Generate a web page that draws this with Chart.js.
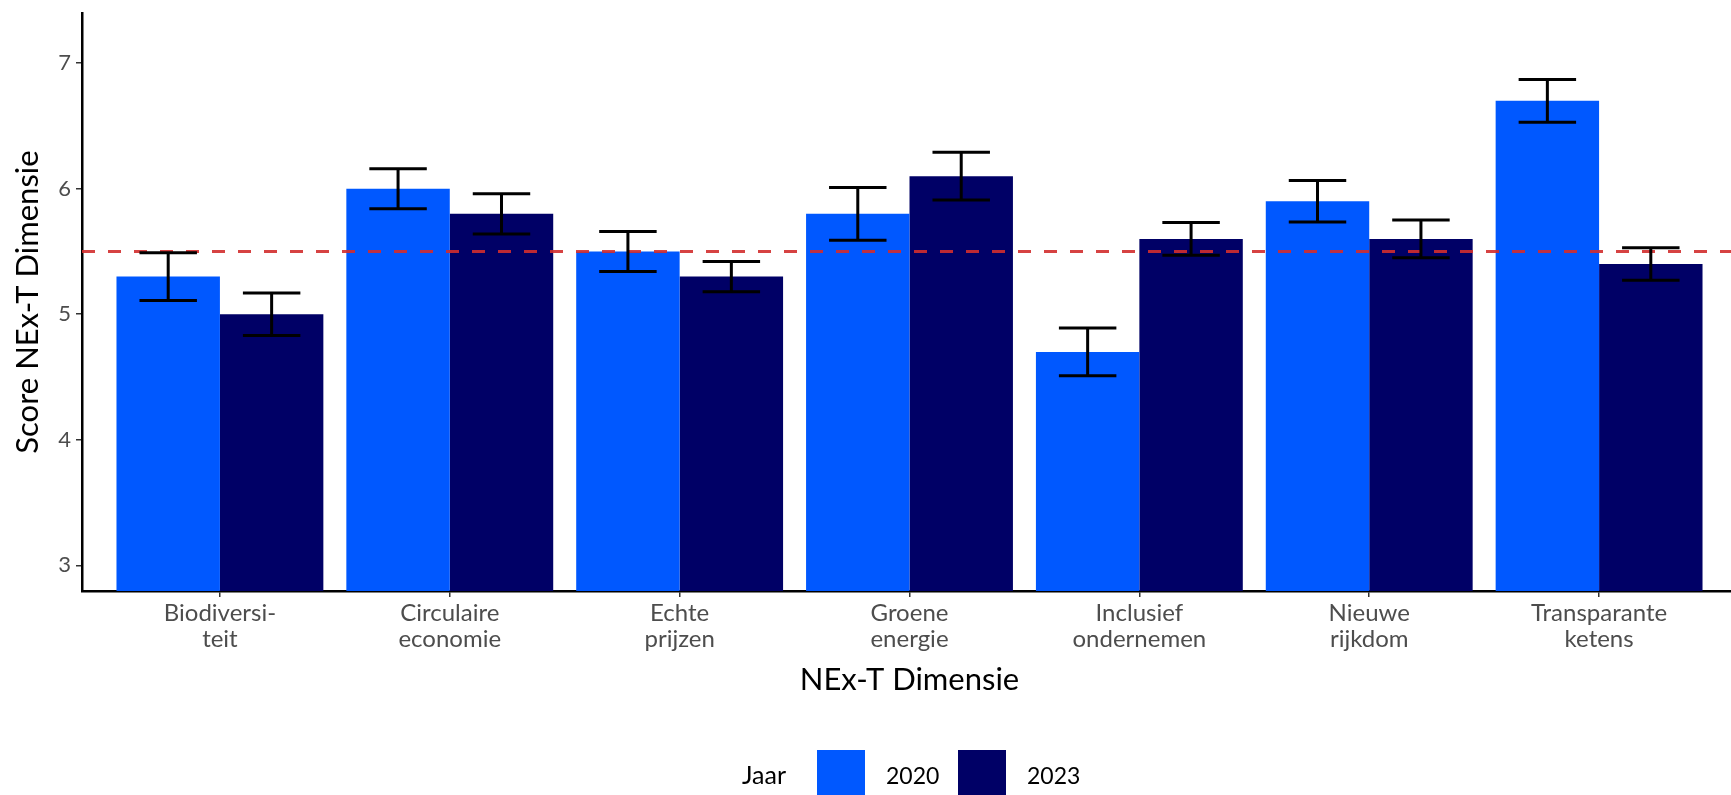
<!DOCTYPE html>
<html>
<head>
<meta charset="utf-8">
<style>
  html, body { margin: 0; padding: 0; background: #fff; overflow: hidden; }
</style>
</head>
<body>
<canvas id="nextChart" width="1737" height="795"></canvas>

<script src="https://cdn.jsdelivr.net/npm/chart.js"></script>
<script>
  // categories on the x axis (two-line labels)
  const dimensies = [
    ["Biodiversi-", "teit"],
    ["Circulaire", "economie"],
    ["Echte", "prijzen"],
    ["Groene", "energie"],
    ["Inclusief", "ondernemen"],
    ["Nieuwe", "rijkdom"],
    ["Transparante", "ketens"]
  ];
  const jaren = ["2020", "2023"];

  // mean scores per year
  const scores2020 = [5.3, 6.0, 5.5, 5.8, 4.7, 5.9, 6.7];
  const scores2023 = [5.0, 5.8, 5.3, 6.1, 5.6, 5.6, 5.4];

  // half width of the error bars
  const err2020 = [0.19, 0.16, 0.16, 0.21, 0.19, 0.165, 0.17];
  const err2023 = [0.17, 0.16, 0.12, 0.19, 0.13, 0.15, 0.13];

  const drempel = 5.5; // dashed reference line
  const yTicks = [3, 4, 5, 6, 7];

  const FONT = "Lato, 'Open Sans', sans-serif";

  // red dashed line + error bars on top of the bars
  const overlayPlugin = {
    id: "overlay",
    afterDatasetsDraw(chart) {
      const ctx = chart.ctx;
      const x = chart.scales.x;
      const y = chart.scales.y;
      const area = chart.chartArea;

      ctx.save();
      ctx.beginPath();
      ctx.rect(area.left, area.top, area.right - area.left, area.bottom - area.top);
      ctx.clip();

      // reference line
      const yRef = y.getPixelForValue(drempel);
      ctx.strokeStyle = "rgba(210, 45, 45, 0.9)";
      ctx.lineWidth = 2.8;
      ctx.setLineDash([13, 13]);
      ctx.beginPath();
      ctx.moveTo(area.left, yRef);
      ctx.lineTo(area.right, yRef);
      ctx.stroke();
      ctx.setLineDash([]);

      // error bars
      const unit = x.getPixelForValue(1) - x.getPixelForValue(0);
      const half = unit * 0.125;
      const errs = [err2020, err2023];
      ctx.strokeStyle = "#000";
      ctx.lineWidth = 3;
      chart.data.datasets.forEach((ds, i) => {
        const meta = chart.getDatasetMeta(i);
        meta.data.forEach((bar, j) => {
          const v = ds.data[j].y;
          const hi = y.getPixelForValue(v + errs[i][j]);
          const lo = y.getPixelForValue(v - errs[i][j]);
          ctx.beginPath();
          ctx.moveTo(bar.x, hi);
          ctx.lineTo(bar.x, lo);
          ctx.moveTo(bar.x - half, hi);
          ctx.lineTo(bar.x + half, hi);
          ctx.moveTo(bar.x - half, lo);
          ctx.lineTo(bar.x + half, lo);
          ctx.stroke();
        });
      });
      ctx.restore();
    }
  };

  // legend in one row: "Jaar" [box] 2020 [box] 2023
  const legendPlugin = {
    id: "jaarLegend",
    afterDraw(chart) {
      const ctx = chart.ctx;
      ctx.save();
      ctx.font = "25px " + FONT;
      ctx.fillStyle = "#000";
      ctx.textBaseline = "alphabetic";
      ctx.textAlign = "left";
      ctx.fillText("Jaar", 742, 784);
      const boxX = [817, 958];
      chart.data.datasets.forEach((ds, i) => {
        ctx.fillStyle = ds.backgroundColor;
        ctx.fillRect(boxX[i], 750, 48, 50);
        ctx.fillStyle = "#000";
        ctx.font = "23px " + FONT;
        ctx.fillText(ds.label, boxX[i] + 69, 784);
      });
      ctx.restore();
    }
  };

  const toPoints = (arr) => arr.map((v, i) => ({ x: i, y: v }));

  new Chart(document.getElementById("nextChart"), {
    type: "bar",
    data: {
      datasets: [
        {
          label: jaren[0],
          data: toPoints(scores2020),
          backgroundColor: "#0058ff",
          categoryPercentage: 0.9,
          barPercentage: 1.0
        },
        {
          label: jaren[1],
          data: toPoints(scores2023),
          backgroundColor: "#000066",
          categoryPercentage: 0.9,
          barPercentage: 1.0
        }
      ]
    },
    options: {
      responsive: false,
      animation: false,
      layout: { padding: { top: 13, left: 0, right: 0, bottom: 0 } },
      plugins: {
        legend: { display: false },
        tooltip: { enabled: false }
      },
      scales: {
        x: {
          type: "linear",
          min: -0.6,
          max: 6.6,
          offset: false,
          afterFit: (s) => { s.height = 204; s.paddingLeft = 0; s.paddingRight = 0; },
          border: { display: true, color: "#000", width: 2.5 },
          grid: {
            display: true,
            offset: false,
            drawOnChartArea: false,
            drawTicks: true,
            tickLength: 6,
            tickColor: "#333",
            lineWidth: 1.5
          },
          ticks: {
            stepSize: 1,
            includeBounds: false,
            autoSkip: false,
            maxRotation: 0,
            padding: 3,
            color: "#4d4d4d",
            font: { family: FONT, size: 24, lineHeight: 1.1 },
            callback: (v) => dimensies[v] || ""
          },
          title: {
            display: true,
            text: "NEx-T Dimensie",
            color: "#000",
            font: { family: FONT, size: 31 },
            padding: { top: 0, bottom: 96 }
          }
        },
        y: {
          min: 2.795,
          max: 7.4,
          afterFit: (s) => { s.width = 82; s.paddingTop = 0; s.paddingBottom = 0; },
          afterBuildTicks: (s) => { s.ticks = yTicks.map((v) => ({ value: v })); },
          border: { display: true, color: "#000", width: 2.5 },
          grid: {
            display: true,
            drawOnChartArea: false,
            drawTicks: true,
            tickLength: 6,
            tickColor: "#333",
            lineWidth: 1.5
          },
          ticks: {
            padding: 5,
            color: "#4d4d4d",
            font: { family: FONT, size: 22 }
          },
          title: {
            display: true,
            text: "Score NEx-T Dimensie",
            color: "#000",
            font: { family: FONT, size: 31 },
            padding: { top: 9, bottom: 0 }
          }
        }
      }
    },
    plugins: [overlayPlugin, legendPlugin]
  });
</script>
</body>
</html>
